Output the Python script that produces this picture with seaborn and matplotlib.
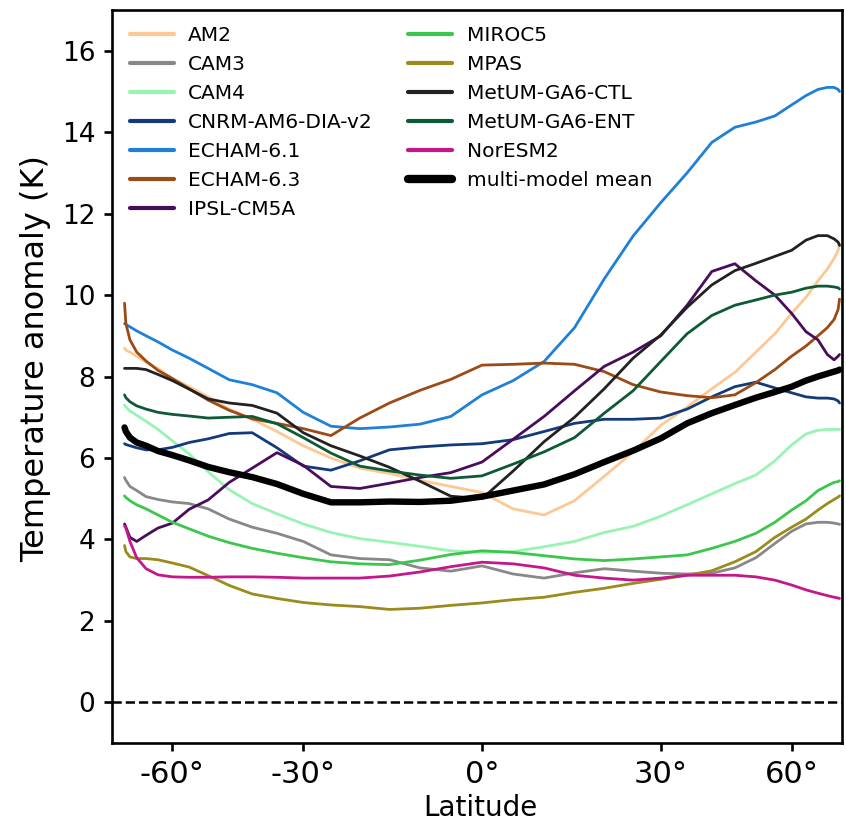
import numpy as np
import pandas as pd
import matplotlib
matplotlib.use("Agg")
import matplotlib.pyplot as plt
import seaborn as sns
from matplotlib.lines import Line2D

latitudes = [-90, -85, -80, -75, -70, -65, -60, -55, -50, -45, -40, -35, -30, -25,
             -20, -15, -10, -5, 0, 5, 10, 15, 20, 25, 30, 35, 40, 45, 50, 55, 60,
             65, 70, 75, 80, 85, 90]

am2 = [8.7, 8.65, 8.6, 8.5, 8.35, 8.2, 7.95, 7.75, 7.5, 7.2, 6.95, 6.65, 6.3, 6.0,
       5.75, 5.62, 5.45, 5.3, 5.15, 4.75, 4.6, 4.95, 5.55, 6.15, 6.8, 7.25, 7.7, 8.1,
       8.6, 9.05, 9.55, 9.95, 10.35, 10.64, 10.9, 11.1, 11.25]
cam3 = [5.52, 5.45, 5.3, 5.2, 5.05, 4.98, 4.92, 4.88, 4.75, 4.5, 4.3, 4.15, 3.95, 3.62,
        3.53, 3.5, 3.3, 3.22, 3.35, 3.15, 3.05, 3.18, 3.28, 3.22, 3.17, 3.15, 3.17, 3.3,
        3.55, 3.9, 4.2, 4.38, 4.42, 4.42, 4.4, 4.38, 4.37]
cam4 = [7.3, 7.25, 7.15, 7.05, 6.9, 6.7, 6.42, 6.1, 5.66, 5.22, 4.88, 4.63, 4.38, 4.17,
        4.02, 3.93, 3.83, 3.72, 3.68, 3.7, 3.82, 3.95, 4.17, 4.32, 4.57, 4.85, 5.12, 5.37,
        5.58, 5.93, 6.32, 6.59, 6.68, 6.7, 6.7, 6.7, 6.7]
cnrm = [6.35, 6.33, 6.3, 6.25, 6.2, 6.2, 6.26, 6.38, 6.47, 6.6, 6.62, 6.25, 5.8, 5.7,
        5.93, 6.2, 6.27, 6.32, 6.35, 6.45, 6.65, 6.85, 6.95, 6.95, 6.98, 7.2, 7.5, 7.75,
        7.86, 7.72, 7.6, 7.5, 7.47, 7.47, 7.45, 7.4, 7.35]
echam61 = [9.3, 9.28, 9.22, 9.12, 9.0, 8.85, 8.65, 8.45, 8.2, 7.92, 7.8, 7.6, 7.12, 6.78,
           6.72, 6.76, 6.83, 7.02, 7.55, 7.9, 8.37, 9.2, 10.4, 11.45, 12.27, 13.0, 13.75,
           14.12, 14.25, 14.4, 14.67, 14.9, 15.05, 15.1, 15.1, 15.05, 15.0]
echam63 = [9.8, 9.3, 8.9, 8.6, 8.38, 8.15, 7.95, 7.7, 7.42, 7.17, 6.96, 6.85, 6.72, 6.55,
           6.98, 7.35, 7.66, 7.93, 8.28, 8.3, 8.33, 8.3, 8.12, 7.8, 7.62, 7.53, 7.48, 7.55,
           7.85, 8.17, 8.5, 8.75, 9.0, 9.2, 9.4, 9.65, 9.9]
ipsl = [4.38, 4.3, 4.05, 3.95, 4.1, 4.28, 4.4, 4.74, 4.97, 5.4, 5.75, 6.13, 5.82, 5.3,
        5.25, 5.38, 5.52, 5.64, 5.9, 6.46, 7.02, 7.65, 8.25, 8.6, 9.0, 9.75, 10.58, 10.77,
        10.35, 10.0, 9.55, 9.1, 8.9, 8.54, 8.41, 8.5, 8.54]
miroc5 = [5.07, 5.03, 4.95, 4.85, 4.75, 4.6, 4.42, 4.26, 4.08, 3.92, 3.78, 3.66, 3.55,
          3.45, 3.4, 3.38, 3.49, 3.63, 3.72, 3.68, 3.6, 3.52, 3.48, 3.52, 3.57, 3.62,
          3.78, 3.95, 4.15, 4.42, 4.72, 4.95, 5.2, 5.32, 5.4, 5.42, 5.44]
mpas = [3.85, 3.7, 3.57, 3.53, 3.53, 3.5, 3.42, 3.32, 3.11, 2.87, 2.66, 2.55, 2.45, 2.39,
        2.35, 2.28, 2.31, 2.38, 2.44, 2.52, 2.58, 2.7, 2.8, 2.92, 3.02, 3.12, 3.23, 3.45,
        3.7, 4.05, 4.3, 4.5, 4.72, 4.88, 4.98, 5.04, 5.07]
metum_ctl = [8.2, 8.2, 8.2, 8.2, 8.17, 8.05, 7.9, 7.69, 7.45, 7.35, 7.29, 7.1, 6.62, 6.3,
             6.05, 5.77, 5.43, 5.06, 5.0, 5.68, 6.4, 7.0, 7.7, 8.45, 9.02, 9.7, 10.25,
             10.6, 10.78, 10.95, 11.1, 11.35, 11.46, 11.46, 11.38, 11.3, 11.22]
metum_ent = [7.55, 7.48, 7.38, 7.28, 7.2, 7.12, 7.07, 7.03, 6.98, 7.0, 7.02, 6.84, 6.5,
             6.12, 5.8, 5.68, 5.58, 5.5, 5.56, 5.85, 6.15, 6.5, 7.1, 7.65, 8.37, 9.05, 9.5,
             9.75, 9.88, 10.0, 10.07, 10.17, 10.22, 10.22, 10.2, 10.18, 10.15]
noresm2 = [4.33, 4.28, 3.95, 3.55, 3.28, 3.13, 3.08, 3.07, 3.07, 3.08, 3.08, 3.07, 3.05,
           3.05, 3.05, 3.1, 3.2, 3.33, 3.44, 3.4, 3.3, 3.12, 3.05, 3.0, 3.05, 3.12, 3.12,
           3.12, 3.08, 3.0, 2.88, 2.76, 2.68, 2.62, 2.58, 2.56, 2.55]
mmm = [6.75, 6.65, 6.5, 6.38, 6.3, 6.17, 6.07, 5.94, 5.78, 5.65, 5.53, 5.36, 5.12, 4.91,
       4.91, 4.93, 4.92, 4.95, 5.05, 5.2, 5.35, 5.6, 5.9, 6.18, 6.48, 6.85, 7.1, 7.3,
       7.48, 7.62, 7.75, 7.9, 8.0, 8.07, 8.12, 8.15, 8.17]

model_names = ["AM2", "CAM3", "CAM4", "CNRM-AM6-DIA-v2", "ECHAM-6.1", "ECHAM-6.3",
               "IPSL-CM5A", "MIROC5", "MPAS", "MetUM-GA6-CTL", "MetUM-GA6-ENT", "NorESM2"]
model_values = [am2, cam3, cam4, cnrm, echam61, echam63, ipsl, miroc5, mpas,
                metum_ctl, metum_ent, noresm2]
model_colors = ["#fcc893", "#888888", "#98f4b2", "#133a7a", "#1f80d8", "#9c4a16",
                "#4a0c5c", "#3cc64e", "#9a8b1c", "#222222", "#0e5a37", "#c4178c"]
mean_label = "multi-model mean"

tick_lats = [-60, -30, 0, 30, 60]
tick_labels = ["-60°", "-30°", "0°", "30°", "60°"]
y_ticks = [0, 2, 4, 6, 8, 10, 12, 14, 16]

rows = []
for name, vals in zip(model_names, model_values):
    for la, v in zip(latitudes, vals):
        rows.append({"model": name, "lat": la, "sinlat": np.sin(np.deg2rad(la)), "value": v})
df = pd.DataFrame(rows)
df_mean = pd.DataFrame({"lat": latitudes,
                        "sinlat": np.sin(np.deg2rad(latitudes)),
                        "value": mmm})

sns.set_theme(style="ticks")
plt.rcParams["font.family"] = ["DejaVu Sans"]
plt.rcParams["text.color"] = "black"
plt.rcParams["axes.labelcolor"] = "black"
plt.rcParams["xtick.color"] = "black"
plt.rcParams["ytick.color"] = "black"

fig = plt.figure(figsize=(8.46, 8.23), dpi=100)
ax = fig.add_axes([0.1324, 0.0972, 0.8629, 0.8906])

palette = dict(zip(model_names, model_colors))
sns.lineplot(data=df, x="sinlat", y="value", hue="model", hue_order=model_names,
             palette=palette, estimator=None, linewidth=2.0, ax=ax, legend=False)
sns.lineplot(data=df_mean, x="sinlat", y="value", color="black", estimator=None,
             linewidth=4.6, ax=ax, legend=False)
ax.axhline(0, color="black", linestyle="--", linewidth=1.8)

ax.set_xlim(-1.035, 1.007)
ax.set_ylim(-1, 17)
ax.set_xticks(np.sin(np.deg2rad(tick_lats)))
ax.set_xticklabels(tick_labels, fontsize=22, color="black")
ax.set_yticks(y_ticks)
ax.set_yticklabels([str(t) for t in y_ticks], fontsize=19, color="black")
ax.set_xlabel("Latitude", fontsize=20, color="black")
ax.set_ylabel("Temperature anomaly (K)", fontsize=23, color="black")
ax.xaxis.set_label_coords(0.505, -0.07)
ax.yaxis.set_label_coords(-0.084, 0.524)

for sp in ax.spines.values():
    sp.set_linewidth(1.9)
    sp.set_color("black")
ax.tick_params(axis="both", direction="out", length=6, width=1.9, colors="black", pad=6)

handles = [Line2D([], [], color=c, lw=3) for c in model_colors]
handles.append(Line2D([], [], color="black", lw=6))
labels = model_names + [mean_label]
leg = ax.legend(handles, labels, ncol=2, loc="upper left", bbox_to_anchor=(0.005, 0.998),
                frameon=False, fontsize=14.5, handlelength=2.2, handletextpad=0.7,
                columnspacing=1.75, labelspacing=0.5, borderaxespad=0.3)
for t in leg.get_texts():
    t.set_color("black")

fig.savefig("out.png", dpi=100)
